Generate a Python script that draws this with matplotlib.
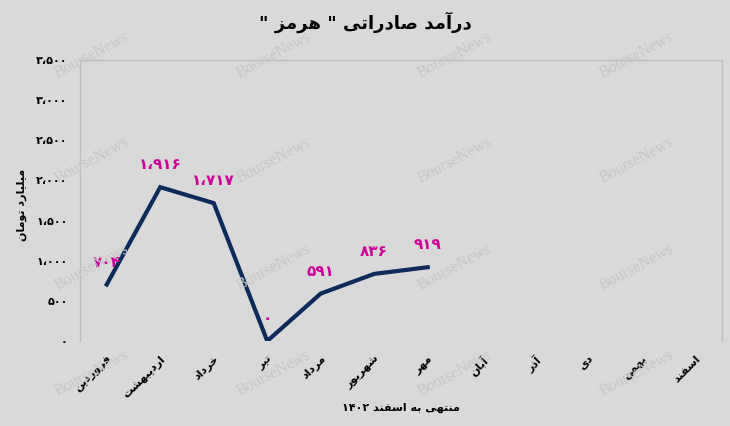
import matplotlib
matplotlib.use('Agg')
import matplotlib.pyplot as plt

months = ['فروردین', 'اردیبهشت', 'خرداد', 'تیر', 'مرداد', 'شهریور',
          'مهر', 'آبان', 'آذر', 'دی', 'بهمن', 'اسفند']
values = [704, 1916, 1717, 0, 591, 836, 919]
yticks = [0, 500, 1000, 1500, 2000, 2500, 3000, 3500]
title = 'درآمد صادراتی " هرمز "'
xlabel = 'منتهی به اسفند ۱۴۰۲'
ylabel = 'میلیارد تومان'

# presentation forms: isolated, final, initial, medial (None = right-joining only)
FORMS = {
    'ا': ('\uFE8D', '\uFE8E', None, None),
    'آ': ('\uFE81', '\uFE82', None, None),
    'د': ('\uFEA9', '\uFEAA', None, None),
    'ذ': ('\uFEAB', '\uFEAC', None, None),
    'ر': ('\uFEAD', '\uFEAE', None, None),
    'ز': ('\uFEAF', '\uFEB0', None, None),
    'و': ('\uFEED', '\uFEEE', None, None),
    'ب': ('\uFE8F', '\uFE90', '\uFE91', '\uFE92'),
    'ت': ('\uFE95', '\uFE96', '\uFE97', '\uFE98'),
    'خ': ('\uFEA5', '\uFEA6', '\uFEA7', '\uFEA8'),
    'س': ('\uFEB1', '\uFEB2', '\uFEB3', '\uFEB4'),
    'ش': ('\uFEB5', '\uFEB6', '\uFEB7', '\uFEB8'),
    'ص': ('\uFEB9', '\uFEBA', '\uFEBB', '\uFEBC'),
    'ف': ('\uFED1', '\uFED2', '\uFED3', '\uFED4'),
    'ل': ('\uFEDD', '\uFEDE', '\uFEDF', '\uFEE0'),
    'م': ('\uFEE1', '\uFEE2', '\uFEE3', '\uFEE4'),
    'ن': ('\uFEE5', '\uFEE6', '\uFEE7', '\uFEE8'),
    'ه': ('\uFEE9', '\uFEEA', '\uFEEB', '\uFEEC'),
    'ی': ('\uFEEF', '\uFEF0', '\uFEF3', '\uFEF4'),
}


def shape_word(w):
    out = []
    for i, c in enumerate(w):
        if c not in FORMS:
            out.append(c)
            continue
        prev = w[i - 1] if i > 0 else None
        nxt = w[i + 1] if i + 1 < len(w) else None
        join_prev = prev in FORMS and FORMS[prev][2] is not None
        join_next = nxt in FORMS and FORMS[c][2] is not None
        iso, fin, ini, med = FORMS[c]
        if join_prev and join_next:
            out.append(med)
        elif join_prev:
            out.append(fin)
        elif join_next:
            out.append(ini)
        else:
            out.append(iso)
    if any(ch in FORMS for ch in w):
        out = out[::-1]
    return ''.join(out)


def fa(text):
    return ' '.join(shape_word(w) for w in text.split(' ')[::-1])


def fa_num(v):
    return '{:,}'.format(v).translate(str.maketrans('0123456789,', '۰۱۲۳۴۵۶۷۸۹،'))


BG = '#d9d9d9'
plt.rcParams['font.family'] = ['DejaVu Sans']

fig = plt.figure(figsize=(7.3, 4.26), dpi=100, facecolor=BG)
ax = fig.add_axes([0.1096, 0.1995, 0.8794, 0.6597], facecolor=BG)

x = list(range(len(values)))
ax.plot(x, values, color='#0c2a5c', linewidth=3, solid_joinstyle='miter', zorder=3)
for xi, v in zip(x, values):
    ax.annotate(fa_num(v), (xi, v), xytext=(0, 16), textcoords='offset points',
                ha='center', va='center', color='#cc0099', fontsize=11,
                fontweight='bold', zorder=4)

ax.set_xlim(-0.5, len(months) - 0.5)
ax.set_ylim(0, 3500)
ax.set_yticks(yticks)
ax.set_yticklabels([fa_num(t) for t in yticks], fontsize=8, fontweight='bold')
ax.set_xticks(range(len(months)))
ax.set_xticklabels([fa(m) for m in months], rotation=45, ha='right',
                   rotation_mode='anchor', fontsize=8, fontweight='bold')
ax.tick_params(length=0)
ax.tick_params(axis='y', pad=9)
ax.tick_params(axis='x', pad=9)

for side in ['left', 'right', 'top']:
    ax.spines[side].set_color('#bdbdbd')
    ax.spines[side].set_linewidth(1)
ax.spines['bottom'].set_visible(False)

fig.text(0.5, 0.948, fa(title), ha='center', va='center', fontsize=13, fontweight='bold')
fig.text(0.549, 0.042, fa(xlabel), ha='center', va='center', fontsize=8, fontweight='bold')
fig.text(0.030, 0.52, fa(ylabel), ha='center', va='center', rotation=90,
         fontsize=8, fontweight='bold')

# watermark
for wx in [92, 274, 455, 637]:
    for wy in [55, 160, 267, 373]:
        fig.text(wx / 730, 1 - wy / 426, 'BourseNews', ha='center', va='center',
                 rotation=28, fontsize=11.5, color='#c8c8c8',
                 family='Liberation Serif', zorder=0)

fig.savefig('out.png', dpi=100, facecolor=BG)
